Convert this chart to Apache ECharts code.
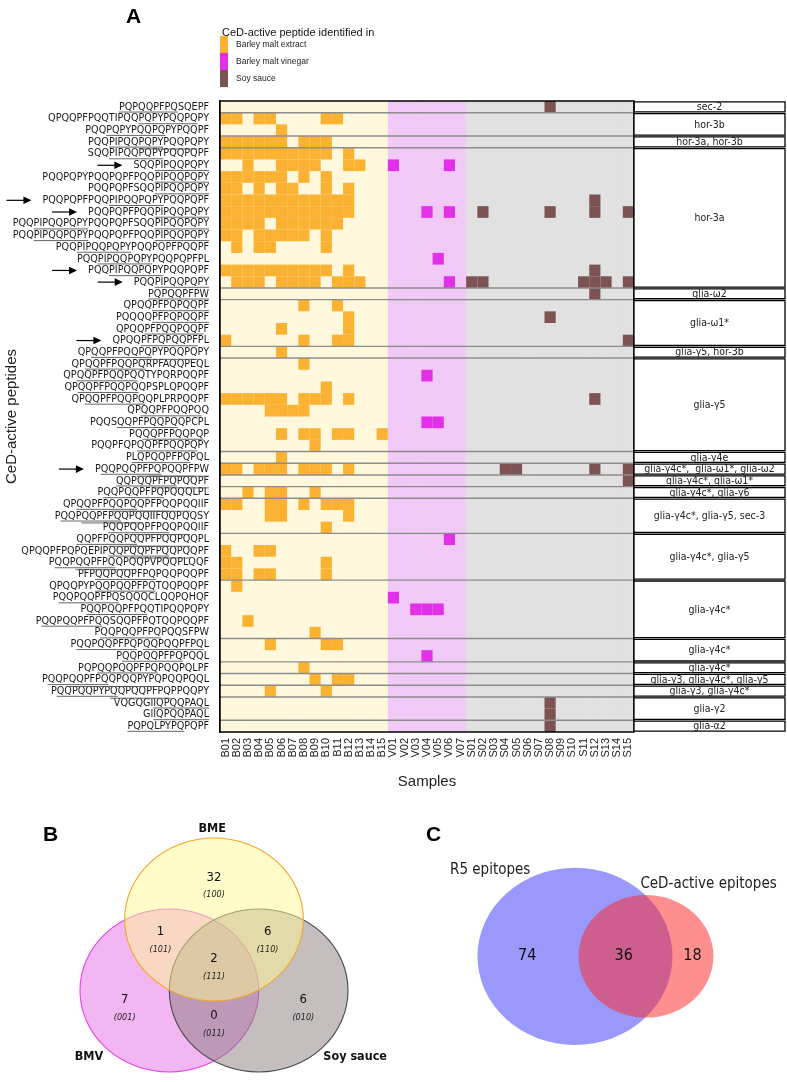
<!DOCTYPE html>
<html>
<head>
<meta charset="utf-8">
<script src="https://cdn.jsdelivr.net/npm/echarts@6/dist/echarts.min.js"></script>
<style>
html, body { margin: 0; padding: 0; background: #fff; }
#chart { width: 787px; height: 1082px; }
</style>
</head>
<body>
<div id="chart"></div>
<script>
const samples = ['B01','B02','B03','B04','B05','B06','B07','B08','B09','B10','B11','B12','B13','B14','B15',
  'V01','V02','V03','V04','V05','V06','V07',
  'S01','S02','S03','S04','S05','S06','S07','S08','S09','S10','S11','S12','S13','S14','S15'];

const peptides = [
  'PQPQQPFPQSQEPF', 'QPQQPFPQQTIPQQPQPYPQQPQPY', 'PQQPQPYPQQPQPYPQQPF', 'PQQPIPQQPQPYPQQPQPY',
  'SQQPIPQQPQPYPQQPQPF', 'SQQPIPQQPQPY', 'PQQPQPYPQQPQPFPQQPIPQQPQPY', 'PQQPQPFSQQPIPQQPQPY',
  'PQQPQPFPQQPIPQQPQPYPQQPQPF', 'PQQPQPFPQQPIPQQPQPY', 'PQQPIPQQPQPYPQQPQPFSQQPIPQQPQPY',
  'PQQPIPQQPQPYPQQPQPFPQQPIPQQPQPY', 'PQQPIPQQPQPYPQQPQPFPQQPF', 'PQQPIPQQPQPYPQQPQPFPL',
  'PQQPIPQQPQPYPQQPQPF', 'PQQPIPQQPQPY', 'PQPQQPFPW', 'QPQQPFPQPQQPF', 'PQQQQPFPQPQQPF',
  'QPQQPFPQQPQQPF', 'QPQQPFPQPQQPFPL', 'QPQQPFPQQPQPYPQQPQPY', 'QPQQPFPQQPQRPFAQQPEQL',
  'QPQQPFPQQPQQTYPQRPQQPF', 'QPQQPFPQQPQQPSPLQPQQPF', 'QPQQPFPQQPQQPLPRPQQPF', 'QPQQPFPQQPQQ',
  'PQQSQQPFPQQPQQPCPL', 'PQQQPFPQQPQP', 'PQQPFQPQQPFPQQPQPY', 'PLQPQQPFPQPQL', 'PQQPQQPFPQPQQPFPW',
  'QQPQQPFPQPQQPF', 'PQQPQQPFPQPQQQLPL', 'QPQQPFPQQPQQPFPQQPQQIIF', 'PQQPQQPFPQQPQQIIFQQPQQSY',
  'PQQPQQPFPQQPQQIIF', 'QQPFPQQPQQPFPQQPQQPL', 'QPQQPFPQPQEPIPQQPQQPFPQQPQQPF',
  'PQQPQQPFPQQPQQPVPQQPLQQF', 'PFPQQPQQPFPQPQQPQQPF', 'QPQQPYPQQPQQPFPQTQQPQQPF',
  'PQQPQQPFPQSQQQCLQQPQHQF', 'PQQPQQPFPQQTIPQQPQPY', 'PQQPQQPFPQQSQQPFPQTQQPQQPF',
  'PQQPQQPFPQPQQSFPW', 'PQQPQQPFPQPQQPQQPFPQL', 'PQQPQQPFPQPQQL', 'PQPQQPQQPFPQPQQPQLPF',
  'PQQPQQPFPQQPQQPYPQPQQPQQL', 'PQQPQQPYPQQPQQPFPQPPQQPY', 'VQGQGIIQPQQPAQL', 'GIIQPQQPAQL',
  'PQPQLPYPQPQPF'
];

// protein origin of each block of rows, top to bottom
const proteinGroups = ['sec-2', 'hor-3b', 'hor-3a, hor-3b', 'hor-3a', 'glia-ω2', 'glia-ω1*', 'glia-γ5, hor-3b',
  'glia-γ5', 'glia-γ4e', 'glia-γ4c*,  glia-ω1*, glia-ω2', 'glia-γ4c*, glia-ω1*', 'glia-γ4c*, glia-γ6',
  'glia-γ4c*, glia-γ5, sec-3', 'glia-γ4c*, glia-γ5', 'glia-γ4c*', 'glia-γ4c*', 'glia-γ4c*',
  'glia-γ3, glia-γ4c*, glia-γ5', 'glia-γ3, glia-γ4c*', 'glia-γ2', 'glia-α2'];
const groupSizes = [1, 2, 1, 12, 1, 4, 1, 8, 1, 1, 1, 1, 3, 4, 5, 2, 1, 1, 1, 2, 1];

// epitope cores underlined in the peptide names
const epitopeNames = ['sec-2', 'hor-3b', 'hor-3a', 'glia-ω2', 'glia-ω1', 'glia-ω1', 'glia-γ5', 'glia-γ4c',
  'glia-γ4e', 'glia-γ3', 'glia-γ2', 'glia-α2'];
const epitopeCores = ['PQPQQPFPQ', 'PQPYPQQPQ', 'PIPQQPQPY', 'PQPQQPFPW', 'PFPQPQQPF', 'PFPQQPQQP', 'QQPFPQQPQ',
  'QQPQQPFPQ', 'LQPQQPFPQ', 'QQPQQPYPQ', 'IQPQQPAQL', 'PQPQLPYPQ'];

// [peptide row (1-based), samples where it was found]
const bmeCells = [
  [2, 'B01 B02 B04 B05 B10 B11'],
  [3, 'B06'],
  [4, 'B01 B02 B03 B04 B05 B06 B08 B09 B10'],
  [5, 'B01 B02 B03 B04 B05 B06 B07 B08 B09 B10 B12'],
  [6, 'B03 B06 B07 B08 B09 B12 B13'],
  [7, 'B01 B02 B03 B04 B05 B06 B08 B10'],
  [8, 'B01 B02 B04 B06 B07 B10 B12'],
  [9, 'B01 B02 B03 B04 B05 B06 B07 B08 B09 B10 B11 B12'],
  [10, 'B01 B02 B03 B04 B05 B06 B07 B08 B09 B10 B11 B12'],
  [11, 'B01 B02 B03 B04 B06 B07 B08 B09 B10 B11'],
  [12, 'B01 B02 B04 B05 B06 B07 B08 B10'],
  [13, 'B02 B04 B05 B10'],
  [15, 'B01 B02 B03 B04 B05 B06 B07 B08 B09 B10 B12'],
  [16, 'B02 B03 B04 B06 B07 B08 B09 B11 B12 B13'],
  [18, 'B08 B11'],
  [19, 'B12'],
  [20, 'B06 B12'],
  [21, 'B01 B08 B11 B12'],
  [22, 'B06'],
  [23, 'B08'],
  [25, 'B10'],
  [26, 'B01 B02 B03 B04 B05 B06 B08 B09 B10 B12'],
  [27, 'B05 B06 B07 B08'],
  [29, 'B06 B08 B09 B11 B12 B15'],
  [30, 'B09'],
  [31, 'B06'],
  [32, 'B01 B02 B04 B05 B06 B08 B09 B10 B12'],
  [34, 'B03 B05 B06 B09'],
  [35, 'B01 B02 B05 B06 B08 B10 B11 B12'],
  [36, 'B05 B06 B12'],
  [37, 'B10'],
  [39, 'B01 B04 B05'],
  [40, 'B01 B02 B10'],
  [41, 'B01 B02 B04 B05 B10'],
  [42, 'B02'],
  [45, 'B03'],
  [46, 'B09'],
  [47, 'B05 B10 B11'],
  [49, 'B08'],
  [50, 'B09 B11 B12'],
  [51, 'B05 B10']
];
const bmvCells = [
  [6, 'V01 V06'], [10, 'V04 V06'], [14, 'V05'], [16, 'V06'], [24, 'V04'],
  [28, 'V04 V05'], [38, 'V06'], [43, 'V01'], [44, 'V03 V04 V05'], [48, 'V04']
];
const soyCells = [
  [1, 'S08'], [9, 'S12'], [10, 'S02 S08 S12 S15'], [15, 'S12'], [16, 'S01 S02 S11 S12 S13 S15'],
  [17, 'S12'], [19, 'S08'], [21, 'S15'], [26, 'S12'], [32, 'S04 S05 S12 S15'], [33, 'S15'],
  [52, 'S08'], [53, 'S08'], [54, 'S08']
];
const arrowRows = [6, 9, 10, 15, 16, 21, 32];

const vennSets = ['BME', 'BMV', 'Soy sauce'];
const vennCounts = [32, 1, 6, 2, 7, 0, 6];
const vennCodes = ['100', '101', '110', '111', '001', '011', '010'];
const epitopeSets = ['R5 epitopes', 'CeD-active epitopes'];
const epitopeCounts = [74, 36, 18];

// ---- styling / layout ----
const NARROW = "'Liberation Sans Narrow', 'DejaVu Sans Condensed', sans-serif";
const SANS = "'Liberation Sans', Arial, sans-serif";
const bandColors = { B: '#fff8dc', V: '#f1c9f6', S: '#e1e1e1' };
const cellColors = ['#fbb232', '#e22fe8', '#7c5252'];
const LABEL_FONT = 10.7;
const LABEL_MARGIN = 11;

const measureCtx = document.createElement('canvas').getContext('2d');
measureCtx.font = LABEL_FONT + 'px ' + NARROW;
const textWidth = s => measureCtx.measureText(s).width;

const toCells = cells => cells.flatMap(([row, s]) =>
  s.split(' ').map(name => [samples.indexOf(name), row - 1]));

const groupRanges = [];
let start = 0;
groupSizes.forEach(n => { groupRanges.push([start, start + n - 1]); start += n; });

// underline spans: [row, firstChar, lastChar + 1, level]
const underlines = [];
groupRanges.forEach((r, g) => {
  for (let row = r[0]; row <= r[1]; row++) {
    const seq = peptides[row];
    const hits = [];
    epitopeCores.forEach((core, k) => {
      if (!proteinGroups[g].includes(epitopeNames[k])) return;
      let at = seq.indexOf(core);
      while (at >= 0) {
        if (!hits.some(h => h[0] === at)) hits.push([at, at + core.length]);
        at = seq.indexOf(core, at + 1);
      }
    });
    hits.sort((a, b) => a[0] - b[0]);
    const levelEnd = [];
    hits.forEach(h => {
      let lv = levelEnd.findIndex(e => e <= h[0]);
      if (lv < 0) lv = levelEnd.length;
      levelEnd[lv] = h[1];
      underlines.push([row, h[0], h[1], Math.min(lv, 1)]);
    });
  }
});

// venn layout (units: one radius)
const vennCentres = [[0, 0], [-0.5, 0.87], [0.5, 0.87]];
const vennStyle = [
  { fill: 'rgba(255,250,150,0.5)', stroke: '#f2a62a' },
  { fill: 'rgba(230,110,230,0.5)', stroke: '#e246e2' },
  { fill: 'rgba(140,125,125,0.5)', stroke: '#4a4a4a' }
];
const vennLabelPos = [[-0.02, -1.11], [-1.4, 1.68], [1.58, 1.68]];
const vennRegionPos = [[0, -0.52], [-0.6, 0.15], [0.6, 0.15], [0, 0.48], [-1.0, 0.98], [0, 1.18], [1.0, 0.98]];
const epiCentres = [[0, 0, 1], [0.728, 0, 0.692]];
const epiStyle = ['rgba(60,60,250,0.52)', 'rgba(255,40,40,0.52)'];
const epiCountPos = [[-0.49, 0], [0.5, 0], [1.205, 0]];
const epiLabelPos = [[-0.87, -0.97], [1.37, -0.81]];

const chart = echarts.init(document.getElementById('chart'));

function cellItem(params, api) {
  const p = api.coord([api.value(0), api.value(1)]);
  const s = api.size([1, 1]);
  return {
    type: 'rect',
    shape: { x: p[0] - s[0] / 2, y: p[1] - s[1] / 2, width: s[0], height: s[1] },
    style: { fill: api.visual('color') }
  };
}

const cellSeries = [bmeCells, bmvCells, soyCells].map((cells, i) => ({
  name: ['Barley malt extract', 'Barley malt vinegar', 'Soy sauce'][i],
  type: 'custom',
  xAxisIndex: 0, yAxisIndex: 0,
  itemStyle: { color: cellColors[i] },
  encode: { x: 0, y: 1 },
  data: toCells(cells),
  renderItem: cellItem,
  z: 3
}));

const option = {
  animation: false,
  title: [
    { text: 'A', left: 121, top: 2, textStyle: { fontSize: 21, fontWeight: 'bold', fontFamily: SANS, color: '#000' } },
    { text: 'CeD-active peptide identified in', left: 217, top: 22,
      textStyle: { fontSize: 11, fontWeight: 'normal', fontFamily: SANS, color: '#111' } },
    { text: 'B', left: 38, top: 820, textStyle: { fontSize: 21, fontWeight: 'bold', fontFamily: SANS, color: '#000' } },
    { text: 'C', left: 421, top: 820, textStyle: { fontSize: 21, fontWeight: 'bold', fontFamily: SANS, color: '#000' } }
  ],
  legend: {
    data: ['Barley malt extract', 'Barley malt vinegar', 'Soy sauce'],
    orient: 'vertical', left: 220, top: 36, padding: 0,
    itemWidth: 8, itemHeight: 17, itemGap: 0, icon: 'rect', selectedMode: false,
    textStyle: { fontSize: 8.5, fontFamily: SANS, color: '#222', padding: [0, 0, 0, 3] }
  },
  grid: [
    { left: 220, top: 101, width: 414, height: 631, outerBoundsMode: 'none', containLabel: false },
    { left: 80, top: 838, width: 268, height: 234, outerBoundsMode: 'none', containLabel: false },
    { left: 477.5, top: 867.7, width: 243.75, height: 177.2, outerBoundsMode: 'none', containLabel: false }
  ],
  xAxis: [
    {
      type: 'category', gridIndex: 0, data: samples,
      name: 'Samples', nameLocation: 'middle', nameGap: 42, nameMoveOverlap: false,
      nameTextStyle: { fontSize: 15, fontFamily: SANS, color: '#222' },
      axisLine: { show: false },
      axisTick: { alignWithLabel: true, length: 5, lineStyle: { color: '#000', width: 1.3 } },
      axisLabel: { rotate: 90, interval: 0, margin: 6, fontSize: 11, fontFamily: SANS, color: '#222' }
    },
    { type: 'value', gridIndex: 1, min: -1.5, max: 1.5, show: false },
    { type: 'value', gridIndex: 2, min: -1, max: 1.5, show: false }
  ],
  yAxis: [
    {
      type: 'category', gridIndex: 0, data: peptides, inverse: true,
      name: 'CeD-active peptides', nameLocation: 'middle', nameGap: 201, nameRotate: 90,
      nameMoveOverlap: false,
      nameTextStyle: { fontSize: 15, fontFamily: SANS, color: '#222' },
      axisLine: { show: true, lineStyle: { color: '#000', width: 2 } },
      axisTick: { alignWithLabel: true, length: 5, lineStyle: { color: '#000', width: 1.3 } },
      axisLabel: { interval: 0, margin: LABEL_MARGIN, fontSize: LABEL_FONT, fontFamily: NARROW, color: '#1a1a1a' }
    },
    { type: 'value', gridIndex: 1, min: -1, max: 1.87, inverse: true, show: false },
    { type: 'value', gridIndex: 2, min: -1, max: 1, inverse: true, show: false }
  ],
  series: [
    {
      // sample-group background bands
      type: 'custom', xAxisIndex: 0, yAxisIndex: 0, z: 1, silent: true,
      data: samples.map((s, i) => [i, 0]),
      encode: { x: 0, y: 1 },
      renderItem(params, api) {
        const cs = params.coordSys;
        const x = api.coord([api.value(0), 0])[0];
        const w = api.size([1, 0])[0];
        return {
          type: 'rect',
          shape: { x: x - w / 2, y: cs.y, width: w + 0.5, height: cs.height },
          style: { fill: bandColors[samples[params.dataIndex][0]] }
        };
      }
    },
    ...cellSeries,
    {
      // protein group separators
      type: 'custom', xAxisIndex: 0, yAxisIndex: 0, z: 4, silent: true,
      data: groupRanges.slice(0, -1).map(r => [0, r[1]]),
      encode: { x: 0, y: 1 },
      renderItem(params, api) {
        const cs = params.coordSys;
        const y = api.coord([0, api.value(1)])[1] + api.size([0, 1])[1] / 2;
        return {
          type: 'line',
          shape: { x1: cs.x, y1: y, x2: cs.x + cs.width, y2: y },
          style: { stroke: '#8c8c8c', lineWidth: 1.4 }
        };
      }
    },
    {
      // frame + protein label boxes
      type: 'custom', xAxisIndex: 0, yAxisIndex: 0, z: 5, silent: true,
      data: groupRanges.map(r => [0, r[0], r[1]]),
      encode: { x: 0, y: [1, 2] },
      renderItem(params, api) {
        const cs = params.coordSys;
        const h = api.size([0, 1])[1];
        const top = api.coord([0, api.value(1)])[1] - h / 2;
        const bot = api.coord([0, api.value(2)])[1] + h / 2;
        const x0 = cs.x + cs.width, x1 = 785;
        const children = [
          { type: 'rect', shape: { x: x0, y: top + 0.9, width: x1 - x0, height: bot - top - 1.8 },
            style: { fill: '#fff', stroke: '#000', lineWidth: 1.3 } },
          { type: 'text', x: (x0 + x1) / 2, y: (top + bot) / 2 + 0.5,
            style: { text: proteinGroups[params.dataIndex], align: 'center', verticalAlign: 'middle',
              fontSize: 10.5, fontFamily: NARROW, fill: '#222' } }
        ];
        if (params.dataIndex === 0) {
          children.push({ type: 'rect', shape: { x: cs.x, y: cs.y, width: cs.width, height: cs.height },
            style: { fill: 'none', stroke: '#000', lineWidth: 1.5 } });
        }
        return { type: 'group', children };
      }
    },
    {
      // epitope underlines in the peptide labels
      type: 'custom', xAxisIndex: 0, yAxisIndex: 0, z: 5, silent: true,
      data: underlines.map(u => [0, u[0]]),
      encode: { x: 0, y: 1 },
      renderItem(params, api) {
        const cs = params.coordSys;
        const u = underlines[params.dataIndex];
        const seq = peptides[u[0]];
        const left = cs.x - LABEL_MARGIN - textWidth(seq);
        const y = api.coord([0, u[0]])[1] + 5.2 + u[3] * 1.9;
        return {
          type: 'line',
          shape: { x1: left + textWidth(seq.slice(0, u[1])), y1: y, x2: left + textWidth(seq.slice(0, u[2])), y2: y },
          style: { stroke: '#555', lineWidth: 0.9 }
        };
      }
    },
    {
      // arrows pointing at highlighted peptides
      type: 'custom', xAxisIndex: 0, yAxisIndex: 0, z: 5, silent: true,
      data: arrowRows.map(r => [0, r - 1]),
      encode: { x: 0, y: 1 },
      renderItem(params, api) {
        const cs = params.coordSys;
        const row = api.value(1);
        const y = api.coord([0, row])[1];
        const tip = cs.x - LABEL_MARGIN - textWidth(peptides[row]) - 11;
        return {
          type: 'group', children: [
            { type: 'line', shape: { x1: tip - 25, y1: y, x2: tip - 6, y2: y }, style: { stroke: '#000', lineWidth: 1.2 } },
            { type: 'polygon', shape: { points: [[tip, y], [tip - 8, y - 3.8], [tip - 8, y + 3.8]] }, style: { fill: '#000' } }
          ]
        };
      }
    },
    {
      // panel B venn sets
      type: 'custom', xAxisIndex: 1, yAxisIndex: 1, z: 2, silent: true,
      data: [1, 2, 0].map(i => [vennCentres[i][0], vennCentres[i][1], i]),
      encode: { x: 0, y: 1 },
      renderItem(params, api) {
        const i = api.value(2);
        const c = api.coord([api.value(0), api.value(1)]);
        const rx = api.size([1, 0])[0];
        const ry = api.size([0, 1])[1];
        const lp = api.coord(vennLabelPos[i]);
        return {
          type: 'group', children: [
            { type: 'circle', x: c[0], y: c[1], scaleY: ry / rx, shape: { cx: 0, cy: 0, r: rx },
              style: { fill: vennStyle[i].fill, stroke: vennStyle[i].stroke, lineWidth: 1.1 } },
            { type: 'text', x: lp[0], y: lp[1], z2: 10,
              style: { text: vennSets[i], align: 'center', verticalAlign: 'middle', fontSize: 12.5,
                fontWeight: 'bold', fontFamily: NARROW, fill: '#111' } }
          ]
        };
      }
    },
    {
      // panel B region counts
      type: 'custom', xAxisIndex: 1, yAxisIndex: 1, z: 3, silent: true,
      data: vennCounts.map((v, i) => [vennRegionPos[i][0], vennRegionPos[i][1], v]),
      encode: { x: 0, y: 1 },
      renderItem(params, api) {
        const c = api.coord([api.value(0), api.value(1)]);
        return {
          type: 'group', children: [
            { type: 'text', x: c[0], y: c[1],
              style: { text: String(api.value(2)), align: 'center', verticalAlign: 'middle',
                fontSize: 13, fontFamily: NARROW, fill: '#111' } },
            { type: 'text', x: c[0], y: c[1] + 18,
              style: { text: '(' + vennCodes[params.dataIndex] + ')', align: 'center', verticalAlign: 'middle',
                fontSize: 9, fontStyle: 'italic', fontFamily: NARROW, fill: '#222' } }
          ]
        };
      }
    },
    {
      // panel C epitope sets
      type: 'custom', xAxisIndex: 2, yAxisIndex: 2, z: 2, silent: true,
      data: epiCentres.map(c => [c[0], c[1], c[2]]),
      encode: { x: 0, y: 1 },
      renderItem(params, api) {
        const i = params.dataIndex;
        const c = api.coord([api.value(0), api.value(1)]);
        const rx = api.size([1, 0])[0] * api.value(2);
        const ry = api.size([0, 1])[1] * api.value(2);
        const lp = api.coord(epiLabelPos[i]);
        return {
          type: 'group', children: [
            { type: 'circle', x: c[0], y: c[1], scaleY: ry / rx, shape: { cx: 0, cy: 0, r: rx },
              style: { fill: epiStyle[i] } },
            { type: 'text', x: lp[0], y: lp[1], z2: 10,
              style: { text: epitopeSets[i], align: 'center', verticalAlign: 'middle', fontSize: 15,
                fontFamily: NARROW, fill: '#222' } }
          ]
        };
      }
    },
    {
      // panel C counts
      type: 'custom', xAxisIndex: 2, yAxisIndex: 2, z: 3, silent: true,
      data: epitopeCounts.map((v, i) => [epiCountPos[i][0], epiCountPos[i][1], v]),
      encode: { x: 0, y: 1 },
      renderItem(params, api) {
        const c = api.coord([api.value(0), api.value(1)]);
        return {
          type: 'text', x: c[0], y: c[1],
          style: { text: String(api.value(2)), align: 'center', verticalAlign: 'middle',
            fontSize: 16, fontFamily: NARROW, fill: '#111' }
        };
      }
    }
  ]
};

chart.setOption(option);
</script>
</body>
</html>
